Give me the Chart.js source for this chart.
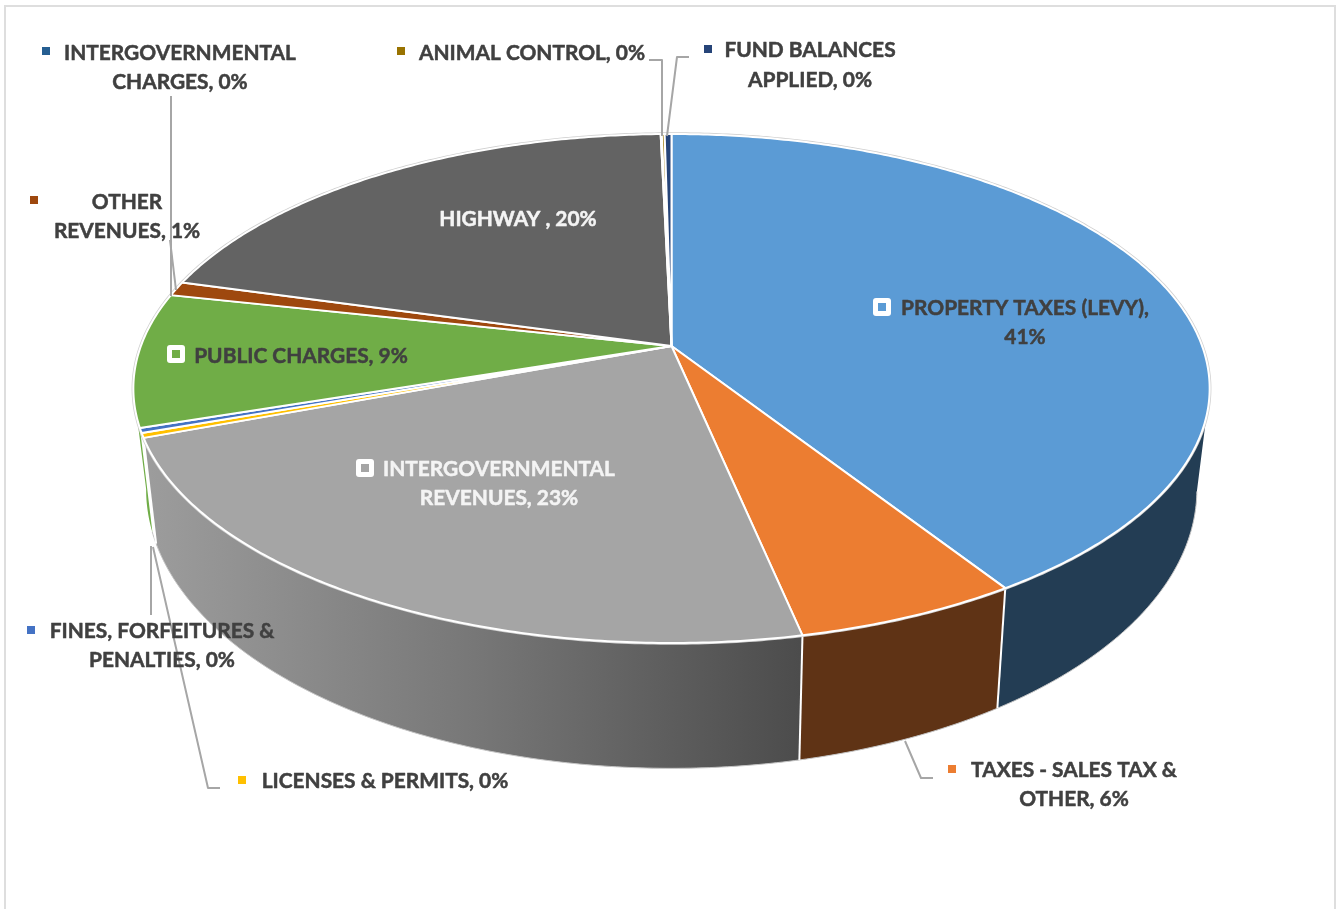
<!DOCTYPE html>
<html>
<head>
<meta charset="utf-8">
<title>Revenues</title>
<script src="https://cdn.jsdelivr.net/npm/chart.js@4/dist/chart.umd.min.js"></script>
<style>
    html, body { margin: 0; padding: 0; background: #fff; overflow: hidden; }
    #wrap { position: relative; width: 1338px; height: 909px; }
    #frame { position: absolute; left: 4px; top: 5px; width: 1332px; height: 910px; border: 2px solid #dedede; box-sizing: border-box; }
    canvas { position: absolute; left: 0; top: 0; }
</style>
</head>
<body>
<div id="wrap">
    <div id="frame"></div>
    <canvas id="revenueChart" width="1338" height="909"></canvas>
</div>
<script>
// values, clockwise from 12 o'clock
const categories = ["PROPERTY TAXES (LEVY)", "TAXES - SALES TAX & OTHER", "INTERGOVERNMENTAL REVENUES",
    "LICENSES & PERMITS", "FINES, FORFEITURES & PENALTIES", "PUBLIC CHARGES", "OTHER REVENUES", "HIGHWAY",
    "INTERGOVERNMENTAL CHARGES", "ANIMAL CONTROL", "FUND BALANCES APPLIED"];
const shares = [40.9, 5.78, 22.62, 0.3, 0.3, 8.5, 0.9, 20.3, 0.04, 0.1, 0.24];
const topColors = ["#5B9BD5", "#EC7D31", "#A5A5A5", "#FFC000", "#4472C4", "#70AD47", "#9E480E", "#636363", "#255E91", "#997300", "#264478"];
const wallColors = ["#233D54", "#5F3315", "#808080", "#FFFFFF", "#FFFFFF", "#70AD47", "#5F2B08", "#3B3B3B", "#163855", "#5C4500", "#172948"];

// label text split the way it wraps in the picture
const labelLines = [
    ["PROPERTY TAXES (LEVY),", "41%"],
    ["TAXES - SALES TAX &", "OTHER, 6%"],
    ["INTERGOVERNMENTAL", "REVENUES, 23%"],
    ["LICENSES & PERMITS, 0%"],
    ["FINES, FORFEITURES &", "PENALTIES, 0%"],
    ["PUBLIC CHARGES, 9%"],
    ["OTHER", "REVENUES, 1%"],
    ["HIGHWAY , 20%"],
    ["INTERGOVERNMENTAL", "CHARGES, 0%"],
    ["ANIMAL CONTROL, 0%"],
    ["FUND BALANCES", "APPLIED, 0%"]
];
const labelCenterX = [1025, 1074, 499, 385, 162, 301, 127, 518, 180, 532, 810];
const labelFirstY = [308, 770, 469, 781, 631, 356, 202, 219, 53, 53, 50.5];
const markerX = [882, 952, 365, 242, 31, 176, 34, null, 46, 401, 708];
const markerY = [307, 769, 468, 780, 630, 354, 200, null, 51, 51, 49];
const labelColors = ["#404040", "#404040", "#F4F4F4", "#404040", "#404040", "#404040", "#404040", "#F4F4F4", "#404040", "#404040", "#404040"];
const insideMarker = [true, false, true, false, false, true, false, false, false, false, false];

const leaderLines = [
    [[171, 96], [171, 296]],
    [[170, 240], [176, 290]],
    [[649, 60], [662, 60], [662, 136]],
    [[689, 57], [677, 57], [667, 136]],
    [[151, 546], [151, 615]],
    [[153, 547], [208, 788], [220, 788]],
    [[905, 741], [921, 778], [933, 778]]
];

// perspective of the disc: the apex sits above the middle of the ellipse
const APEX_X = 671.5;
const APEX_Y = 346;
const PERSP = -0.167;
const TOP_RX = 530.6;
const TOP_RY = 247.4;
const BOTTOM_RX = 518;
const BOTTOM_RY = 271;
const BOTTOM_Y = 443;

// front part of the wall, angles as canvas radians
const WALL_FROM = 10 * Math.PI / 180;
const WALL_TO = 170.5 * Math.PI / 180;

function topPoint(a) {
    var w = 1 + PERSP * Math.sin(a);
    return [APEX_X + TOP_RX * Math.cos(a) / w, APEX_Y + TOP_RY * Math.sin(a) / w];
}

function bottomPoint(a) {
    var w = 1 + PERSP * Math.sin(a);
    return [APEX_X + BOTTOM_RX * Math.cos(a) / w, BOTTOM_Y + BOTTOM_RY * Math.sin(a) / w];
}

function rimPath(ctx, pointFn, from, to, moveFirst) {
    var steps = Math.max(2, Math.ceil(Math.abs(to - from) / 0.01));
    for (let s = 0; s <= steps; s++) {
        var p = pointFn(from + (to - from) * s / steps);
        if (s == 0 && moveFirst) ctx.moveTo(p[0], p[1]);
        else ctx.lineTo(p[0], p[1]);
    }
}

function drawWalls(ctx, arcs) {
    for (let i = 0; i < arcs.length; i++) {
        var from = Math.max(arcs[i].startAngle, WALL_FROM);
        var to = Math.min(arcs[i].endAngle, WALL_TO);
        if (to <= from) continue;

        ctx.beginPath();
        rimPath(ctx, topPoint, from, to, true);
        rimPath(ctx, bottomPoint, to, from, false);
        ctx.closePath();

        if (i == 2) {
            var shade = ctx.createLinearGradient(150, 0, 800, 0);
            shade.addColorStop(0, "#9C9C9C");
            shade.addColorStop(0.5, "#777777");
            shade.addColorStop(1, "#4C4C4C");
            ctx.fillStyle = shade;
        } else {
            ctx.fillStyle = wallColors[i];
        }
        ctx.fill();
    }

    // thin outline round the bottom rim
    ctx.beginPath();
    rimPath(ctx, bottomPoint, WALL_FROM, WALL_TO - 0.15, true);
    ctx.strokeStyle = "#C4C4C4";
    ctx.lineWidth = 1;
    ctx.stroke();

    // white seams between the big walls
    ctx.strokeStyle = "#FFFFFF";
    ctx.lineWidth = 2;
    for (let i = 0; i < 3; i++) {
        var t = topPoint(arcs[i].endAngle), b = bottomPoint(arcs[i].endAngle);
        ctx.beginPath();
        ctx.moveTo(t[0], t[1]);
        ctx.lineTo(b[0], b[1]);
        ctx.stroke();
    }
}

function drawTop(ctx, arcs) {
    // faint halo outside the white rim
    ctx.beginPath();
    rimPath(ctx, topPoint, 0, Math.PI * 2, true);
    ctx.closePath();
    ctx.strokeStyle = "#CFCFCF";
    ctx.lineWidth = 3.5;
    ctx.stroke();

    for (let i = 0; i < arcs.length; i++) {
        ctx.beginPath();
        ctx.moveTo(APEX_X, APEX_Y);
        rimPath(ctx, topPoint, arcs[i].startAngle, arcs[i].endAngle, false);
        ctx.closePath();
        ctx.fillStyle = topColors[i];
        ctx.fill();
        ctx.strokeStyle = "#FFFFFF";
        ctx.lineWidth = 2;
        ctx.lineJoin = "round";
        ctx.stroke();
    }
}

function drawLeaders(ctx) {
    ctx.strokeStyle = "#A6A6A6";
    ctx.lineWidth = 2;
    leaderLines.forEach(function (line) {
        ctx.beginPath();
        line.forEach(function (p, k) {
            if (k == 0) ctx.moveTo(p[0], p[1]);
            else ctx.lineTo(p[0], p[1]);
        });
        ctx.stroke();
    });
}

function drawLabels(ctx) {
    ctx.font = "bold 20.9px Lato";
    ctx.textAlign = "center";
    ctx.textBaseline = "middle";
    ctx.lineJoin = "round";
    for (let i = 0; i < labelLines.length; i++) {
        if (markerX[i] != null) {
            if (insideMarker[i]) {
                ctx.fillStyle = "#FFFFFF";
                ctx.beginPath();
                ctx.roundRect(markerX[i] - 9, markerY[i] - 9, 18, 18, 3);
                ctx.fill();
            }
            ctx.fillStyle = topColors[i];
            ctx.fillRect(markerX[i] - 4, markerY[i] - 4, 8, 8);
        }
        ctx.fillStyle = labelColors[i];
        ctx.strokeStyle = labelColors[i];
        ctx.lineWidth = 0.5;
        for (let l = 0; l < labelLines[i].length; l++) {
            var y = labelFirstY[i] + l * 29.3;
            ctx.fillText(labelLines[i][l], labelCenterX[i], y);
            ctx.strokeText(labelLines[i][l], labelCenterX[i], y);
        }
    }
}

// the library lays out the slice angles, this plugin projects them into the tilted 3D look
const tiltedPie = {
    id: 'tiltedPie',
    beforeDatasetDraw(chart, args) {
        var ctx = chart.ctx;
        var arcs = chart.getDatasetMeta(args.index).data;
        ctx.save();
        drawWalls(ctx, arcs);
        drawTop(ctx, arcs);
        drawLeaders(ctx);
        drawLabels(ctx);
        ctx.restore();
        return false;
    }
};

new Chart(document.getElementById('revenueChart').getContext("2d"), {
    type: 'pie',
    data: {
        labels: categories,
        datasets: [{
            data: shares,
            backgroundColor: topColors
        }]
    },
    options: {
        responsive: false,
        animation: false,
        plugins: {
            legend: { display: false },
            tooltip: { enabled: false }
        }
    },
    plugins: [tiltedPie]
});
</script>
</body>
</html>
